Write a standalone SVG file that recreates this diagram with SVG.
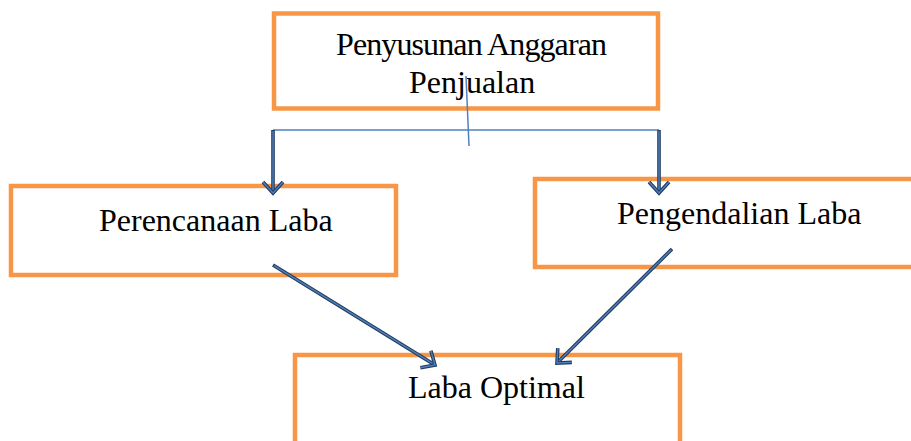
<svg xmlns="http://www.w3.org/2000/svg" width="911" height="441" viewBox="0 0 911 441">
<style>
.box{fill:#FFFFFF;stroke:#F79646;stroke-width:4.5}
.lbl{font-family:"Liberation Serif","Times New Roman",serif;font-size:32px;fill:#000000}
.thin{fill:none;stroke:#4F81BD;stroke-width:1.5}
.outer{fill:none;stroke:#1F3A5F;stroke-width:3.6}
.inner{fill:none;stroke:#4F81BD;stroke-width:1.4}
</style>
<defs>
<marker id="ah" markerUnits="userSpaceOnUse" markerWidth="30" markerHeight="30" refX="15" refY="15" orient="auto" overflow="visible">
<path d="M4,5 L15,15 L4,25" fill="none" stroke="#1F3A5F" stroke-width="3.6" stroke-linejoin="miter"/>
<path d="M4,5 L15,15 L4,25" fill="none" stroke="#4F81BD" stroke-width="1.4" stroke-linejoin="miter"/>
</marker>
</defs>
<rect width="911" height="441" fill="#FFFFFF"/>
<g id="node-penyusunan">
<rect class="box" x="274" y="13.5" width="384" height="95"/>
<text class="lbl" x="336" y="55" textLength="271" lengthAdjust="spacing">Penyusunan Anggaran</text>
<text class="lbl" x="409" y="93">Penjualan</text>
</g>
<g id="node-perencanaan">
<rect class="box" x="11" y="186" width="385" height="89"/>
<text class="lbl" x="99" y="231">Perencanaan Laba</text>
</g>
<g id="node-pengendalian">
<rect class="box" x="535" y="179" width="400" height="88"/>
<text class="lbl" x="617" y="224">Pengendalian Laba</text>
</g>
<g id="node-laba-optimal">
<rect class="box" x="295" y="355" width="385" height="100"/>
<text class="lbl" x="408" y="398">Laba Optimal</text>
</g>
<g id="connectors">
<path class="thin" d="M466,76 L469,146"/>
<path class="thin" d="M273,130 L659,130"/>
<path class="outer" d="M273,130 L273,193" marker-end="url(#ah)"/>
<path class="inner" d="M273,131 L273,190"/>
<path class="outer" d="M659,130 L659,193" marker-end="url(#ah)"/>
<path class="inner" d="M659,131 L659,190"/>
<path class="outer" d="M273,265 L435,365" marker-end="url(#ah)"/>
<path class="inner" d="M274,265.6 L432.5,363.4"/>
<path class="outer" d="M672,249 L557,363" marker-end="url(#ah)"/>
<path class="inner" d="M671.3,249.7 L559,361"/>
</g>
</svg>
